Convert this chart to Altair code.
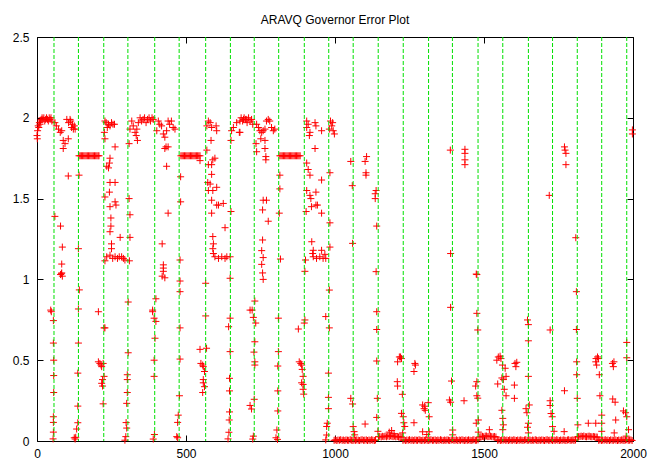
import altair as alt
import pandas as pd

# Time steps at which the governor switched module (vertical dashed lines)
switch_steps = [57, 139, 224, 305, 395, 477, 566, 649, 729, 811, 897, 979,
                1061, 1145, 1229, 1314, 1394, 1480, 1563, 1649, 1730, 1813, 1895, 1979]

# (step, error) samples, grouped by stretch of the run
seg_a = [(0, 1.89), (1, 1.87), (2, 1.92), (4, 1.95), (6, 1.94), (8, 1.97), (10, 1.96), (12, 1.98),
         (14, 1.99), (17, 2.0), (20, 1.99), (23, 2.0), (26, 1.98), (29, 1.99), (32, 2.0), (35, 1.99),
         (38, 1.98), (41, 2.0), (44, 1.99), (47, 2.0), (50, 1.98),
         (46, 0.81), (48, 0.80), (55, 0.745), (55, 0.606), (56, 0.50), (56, 0.405), (56, 0.30),
         (55, 0.15), (55, 0.115), (55, 0.055), (54, 0.013), (60, 1.39)]

seg_b = [(60, 1.97), (65, 1.95), (72, 1.93), (78, 1.91), (83, 1.92), (88, 1.86), (94, 1.84), (88, 1.81),
         (105, 1.87), (100, 1.99), (111, 1.99), (106, 1.97), (116, 1.94), (122, 1.93), (128, 1.93),
         (125, 1.95), (119, 1.96), (113, 1.98), (105, 1.64), (79, 1.33),
         (85, 1.20), (83, 1.095), (83, 1.04), (79, 1.03), (85, 1.02), (82, 1.035),
         (139, 1.19), (142, 0.935), (139, 0.817), (139, 0.606), (137, 0.42), (137, 0.216), (137, 0.113),
         (133, 0.074), (130, 0.023), (125, 0.02), (128, 0.012), (141, 1.645)]

seg_c = [(228, 1.98), (232, 1.97), (236, 1.94), (240, 1.96), (245, 1.95), (250, 1.97), (255, 1.96),
         (260, 1.96), (226, 1.91), (228, 1.87), (262, 1.82), (245, 1.75), (243, 1.72), (234, 1.70),
         (240, 1.69), (245, 1.60), (262, 1.60), (228, 1.51), (243, 1.54), (245, 1.45), (262, 1.48),
         (265, 1.46), (248, 1.38), (248, 1.33),
         (234, 1.14), (245, 1.15), (254, 1.13), (262, 1.14), (270, 1.13), (276, 1.14), (284, 1.14),
         (290, 1.13), (295, 1.12), (279, 1.26), (245, 1.295), (250, 1.22), (250, 1.19), (228, 1.115),
         (310, 1.115), (312, 1.26),
         (206, 0.80), (228, 0.70), (225, 0.70), (206, 0.49), (211, 0.48), (215, 0.47), (217, 0.46),
         (222, 0.48), (225, 0.40), (220, 0.38), (217, 0.357), (220, 0.34), (222, 0.23),
         (306, 0.86), (306, 0.546), (303, 0.41), (303, 0.38), (303, 0.30), (301, 0.233), (299, 0.114),
         (301, 0.08), (298, 0.027), (295, 0.005)]

seg_d = [(312, 1.93), (318, 1.98), (323, 1.95), (329, 1.91), (333, 1.89), (337, 1.86), (335, 1.93),
         (309, 1.84), (346, 2.0), (351, 1.98), (356, 1.99), (361, 2.0), (366, 1.97), (371, 1.99),
         (376, 2.0), (381, 1.98), (386, 2.0), (390, 1.99), (340, 1.97), (309, 1.50), (312, 1.40),
         (402, 1.92), (407, 1.98), (418, 1.95), (424, 1.90), (429, 1.88), (435, 1.92), (440, 1.98),
         (451, 1.98), (457, 1.94), (463, 1.93), (412, 1.96), (445, 1.96), (433, 1.82), (429, 1.81),
         (440, 1.82), (435, 1.70), (440, 1.41),
         (420, 1.22), (424, 1.09), (424, 1.07), (424, 1.05), (420, 1.02), (429, 1.01),
         (399, 0.88), (388, 0.81), (388, 0.80), (393, 0.76), (399, 0.74), (396, 0.636), (393, 0.50),
         (393, 0.40), (394, 0.04), (390, 0.012),
         (480, 1.12), (480, 0.99), (480, 0.924), (480, 0.70), (480, 0.507), (478, 0.28), (474, 0.16),
         (472, 0.115), (469, 0.027), (472, 0.02), (482, 1.635), (482, 1.48), (547, 1.735)]

seg_e = [(575, 1.98), (581, 1.97), (570, 1.95), (586, 1.94), (601, 1.95), (603, 1.92), (584, 1.86),
         (570, 1.80), (575, 1.71), (586, 1.71), (590, 1.74), (597, 1.75), (586, 1.65), (573, 1.60),
         (581, 1.59), (590, 1.55), (575, 1.55), (603, 1.57), (586, 1.49), (603, 1.46), (609, 1.46),
         (625, 1.47), (586, 1.41), (631, 1.32),
         (590, 1.265), (592, 1.22), (590, 1.19), (592, 1.16), (597, 1.14), (609, 1.13), (620, 1.14),
         (631, 1.13), (637, 1.14), (648, 1.14),
         (566, 0.976), (566, 0.774), (569, 0.574), (547, 0.567),
         (550, 0.48), (556, 0.47), (558, 0.46), (562, 0.43), (558, 0.38), (558, 0.36), (562, 0.336),
         (556, 0.30),
         (648, 1.007), (648, 0.76), (648, 0.553), (646, 0.388), (646, 0.31), (646, 0.18), (645, 0.13),
         (644, 0.054), (641, 0.013), (643, 0.707)]

seg_f = [(653, 1.92), (659, 1.94), (670, 1.97), (681, 1.98), (693, 1.99), (704, 1.99), (679, 1.91),
         (651, 1.86), (651, 1.42), (685, 2.0), (690, 1.98), (695, 2.0), (700, 1.99), (705, 1.97),
         (710, 2.0), (715, 1.98), (720, 1.99), (724, 1.96), (681, 1.91),
         (715, 0.81), (715, 0.22),
         (731, 0.866), (722, 0.81), (726, 0.765), (734, 0.73), (731, 0.614), (728, 0.55), (731, 0.49),
         (731, 0.47), (729, 0.258), (720, 0.198), (726, 0.03), (724, 0.012)]

seg_g = [(737, 1.96), (743, 1.94), (748, 1.92), (754, 1.91), (759, 1.92), (765, 1.93), (770, 1.98),
         (776, 1.99), (781, 1.98), (787, 1.94), (793, 1.92), (798, 1.93), (751, 1.87), (765, 1.86),
         (735, 1.84), (737, 1.79), (765, 1.81), (768, 1.76), (768, 1.74),
         (759, 1.49), (770, 1.49), (757, 1.43), (776, 1.36),
         (757, 1.244), (754, 1.178), (759, 1.135), (754, 1.093), (757, 1.04), (759, 1.0),
         (815, 1.645), (815, 1.56), (813, 1.41), (817, 1.126), (810, 0.76), (810, 0.553), (808, 0.464),
         (808, 0.31), (808, 0.186), (805, 0.068), (802, 0.02), (807, 0.01)]

seg_h = [(905, 1.98), (910, 1.96), (905, 1.94), (916, 1.91), (914, 1.89), (933, 1.97), (936, 1.95),
         (955, 1.92), (985, 1.98), (992, 1.97), (989, 1.95), (994, 1.92), (998, 1.90), (981, 1.93),
         (933, 1.81), (905, 1.72), (910, 1.68), (916, 1.645), (955, 1.615), (983, 1.66), (905, 1.55),
         (916, 1.52), (919, 1.50), (936, 1.54), (903, 1.42), (936, 1.46), (941, 1.46), (921, 1.45),
         (955, 1.41), (983, 1.35),
         (880, 0.49), (885, 0.48), (888, 0.47), (890, 0.443), (893, 0.40), (888, 0.36), (893, 0.35),
         (893, 0.32), (895, 0.29), (877, 0.693), (899, 0.749), (897, 0.73), (901, 1.12), (899, 1.05),
         (922, 1.233), (927, 1.18), (925, 1.16), (927, 1.14), (938, 1.13), (949, 1.14), (955, 1.18),
         (960, 1.13), (969, 1.13), (966, 1.155),
         (983, 1.20), (981, 0.934), (969, 0.77), (981, 0.70), (978, 0.42), (978, 0.27), (978, 0.20),
         (974, 0.11), (972, 0.09), (972, 0.037), (969, 0.007)]

seg_late = [(1059, 1.223), (1053, 0.264), (1059, 0.229), (1061, 0.089), (1064, 0.058), (1066, 0.038),
            (1053, 1.73), (1058, 1.58), (1106, 1.76), (1101, 1.73), (1104, 1.66), (1104, 1.645),
            (1138, 1.55), (1135, 1.53), (1135, 1.50), (1140, 1.33), (1101, 0.105),
            (1138, 1.048), (1140, 0.80), (1140, 0.69), (1140, 0.495), (1142, 0.264), (1140, 0.146),
            (1144, 0.06),
            (1216, 0.52), (1220, 0.52), (1223, 0.51), (1210, 0.49), (1209, 0.367), (1210, 0.34),
            (1226, 0.289), (1223, 0.171), (1229, 0.15), (1231, 0.113), (1234, 0.09), (1227, 0.05),
            (1268, 0.48), (1270, 0.47), (1265, 0.43),
            (1294, 0.223), (1299, 0.20), (1303, 0.19), (1301, 0.215), (1313, 0.237), (1316, 0.15),
            (1265, 0.113), (1294, 0.057), (1308, 0.04), (1316, 0.057),
            (1388, 1.16), (1388, 0.827), (1391, 0.371), (1384, 0.254), (1388, 0.24), (1395, 0.068),
            (1395, 0.038), (1387, 1.80),
            (1436, 1.805), (1436, 1.78), (1436, 1.74), (1436, 1.71), (1433, 0.249),
            (1474, 1.033), (1476, 1.03), (1476, 0.79), (1479, 0.687), (1476, 0.367), (1472, 0.34),
            (1476, 0.28), (1479, 0.265), (1474, 0.11), (1481, 0.13), (1481, 0.055),
            (1543, 0.50), (1548, 0.52), (1554, 0.525), (1557, 0.51), (1562, 0.47), (1565, 0.38),
            (1571, 0.45), (1574, 0.40), (1560, 0.39), (1546, 0.353), (1568, 0.32), (1574, 0.28),
            (1560, 0.19), (1563, 0.14), (1565, 0.10), (1563, 0.07),
            (1604, 0.48), (1610, 0.487), (1607, 0.46), (1602, 0.346), (1602, 0.264),
            (1646, 0.749), (1649, 0.72), (1649, 0.62), (1649, 0.40), (1652, 0.223), (1641, 0.20),
            (1644, 0.175), (1649, 0.11), (1646, 0.085), (1649, 0.05),
            (1719, 1.52), (1722, 0.687), (1722, 0.249), (1722, 0.22), (1725, 0.17), (1729, 0.15),
            (1730, 0.089), (1735, 0.06),
            (1770, 1.82), (1772, 1.80), (1775, 1.78), (1775, 1.71), (1770, 0.311), (1769, 0.058),
            (1808, 1.258), (1810, 0.924), (1810, 0.69), (1811, 0.49), (1811, 0.41), (1813, 0.264),
            (1815, 0.10),
            (1876, 0.51), (1881, 0.52), (1884, 0.51), (1875, 0.49), (1878, 0.47), (1887, 0.41),
            (1889, 0.28), (1895, 0.16), (1895, 0.11), (1895, 0.06), (1850, 0.11), (1875, 0.11),
            (1931, 0.48), (1936, 0.49), (1934, 0.46), (1932, 0.26), (1940, 0.24), (1942, 0.13),
            (1937, 0.05),
            (1979, 0.61), (1979, 0.515), (1968, 0.186), (1975, 0.175), (1979, 0.15), (1985, 0.07),
            (1977, 0.03), (1998, 1.925), (1998, 1.90)]

# Flat stretches where the error sits at a constant level
plateau_steps = [141, 145, 149, 153, 157, 161, 165, 169, 173, 177, 181, 185, 189, 193, 197, 201, 205, 208,
                 483, 487, 491, 495, 499, 503, 507, 511, 515, 519, 523, 527, 531, 535, 539, 543, 547,
                 815, 819, 823, 827, 831, 835, 839, 843, 847, 851, 855, 859, 863, 867, 871, 875, 879, 883]
plateau_err = [1.765] * len(plateau_steps)

# Near-zero floor in the second half of the run, and its slightly raised stretches
floor_1 = [(997, .004), (1001, .007), (1006, .003), (1010, .006), (1015, .005), (1019, .008), (1024, .004),
           (1028, .006), (1033, .003), (1037, .007), (1042, .005), (1046, .004), (1051, .008), (1055, .005),
           (1060, .003), (1064, .006), (1069, .004), (1073, .007), (1078, .005), (1082, .003), (1087, .006),
           (1091, .008), (1096, .004), (1100, .005), (1105, .007), (1109, .003), (1114, .006), (1118, .004),
           (1123, .008), (1127, .005), (1132, .003), (1136, .006)]
raised_1 = [(1146, .026), (1150, .028), (1155, .025), (1159, .029), (1164, .027), (1168, .030), (1173, .026),
            (1177, .031), (1182, .028), (1186, .032), (1191, .029), (1195, .027), (1200, .030), (1204, .026),
            (1209, .028), (1213, .025), (1218, .027), (1222, .024), (1182, .055), (1190, .065), (1198, .045)]
floor_2 = [(1228, .004), (1232, .007), (1237, .003), (1241, .006), (1246, .005), (1250, .008), (1255, .004),
           (1259, .006), (1264, .003), (1268, .007), (1273, .005), (1277, .004), (1282, .008), (1286, .005),
           (1291, .003), (1295, .006), (1300, .004), (1304, .007), (1309, .005), (1313, .003), (1318, .006),
           (1322, .008), (1327, .004), (1331, .005), (1336, .007), (1340, .003), (1345, .006), (1349, .004),
           (1354, .008), (1358, .005), (1363, .003), (1367, .006), (1372, .004), (1376, .007), (1381, .005),
           (1385, .003), (1390, .006), (1394, .008), (1399, .004), (1403, .005), (1408, .007), (1412, .003),
           (1417, .006), (1421, .004), (1426, .008), (1430, .005), (1435, .003), (1439, .006), (1444, .004),
           (1448, .007), (1453, .005), (1457, .003), (1462, .006), (1466, .008), (1471, .004), (1475, .005),
           (1480, .007)]
raised_2 = [(1486, .025), (1490, .027), (1495, .029), (1499, .026), (1504, .030), (1508, .031), (1513, .027),
            (1517, .028), (1522, .030), (1526, .027), (1531, .026), (1535, .028), (1540, .025), (1518, .070)]
floor_3 = [(1546, .004), (1550, .007), (1555, .003), (1559, .006), (1564, .005), (1568, .008), (1573, .004),
           (1577, .006), (1582, .003), (1586, .007), (1591, .005), (1595, .004), (1600, .008), (1604, .005),
           (1609, .003), (1613, .006), (1618, .004), (1622, .007), (1627, .005), (1631, .003), (1636, .006),
           (1640, .008), (1645, .004), (1649, .005), (1654, .007), (1658, .003), (1663, .006), (1667, .004),
           (1672, .008), (1676, .005), (1681, .003), (1685, .006), (1690, .004), (1694, .007), (1699, .005),
           (1703, .003), (1708, .006), (1712, .008), (1717, .004), (1721, .005), (1726, .007), (1730, .003),
           (1735, .006), (1739, .004), (1744, .008), (1748, .005), (1753, .003), (1757, .006), (1762, .004),
           (1766, .007), (1771, .005), (1775, .003), (1780, .006), (1784, .008), (1789, .004), (1793, .005),
           (1798, .007), (1802, .003), (1807, .006)]
raised_3 = [(1813, .025), (1817, .027), (1822, .028), (1826, .030), (1831, .028), (1835, .031), (1840, .027),
            (1844, .026), (1849, .029), (1853, .030), (1858, .027), (1862, .026), (1867, .028), (1871, .026),
            (1876, .025), (1880, .024)]
floor_4 = [(1885, .004), (1889, .007), (1894, .003), (1898, .006), (1903, .005), (1907, .008), (1912, .004),
           (1916, .006), (1921, .003), (1925, .007), (1930, .005), (1934, .004), (1939, .008), (1943, .005),
           (1948, .003), (1952, .006), (1957, .004), (1961, .007), (1966, .005), (1970, .003), (1975, .006),
           (1979, .008), (1984, .004), (1988, .005), (1993, .007), (1997, .003)]

x_ticks = [0, 500, 1000, 1500, 2000]
y_ticks = [0, 0.5, 1, 1.5, 2, 2.5]

scattered = (seg_a + seg_b + seg_c + seg_d + seg_e + seg_f + seg_g + seg_h + seg_late
             + floor_1 + raised_1 + floor_2 + raised_2 + floor_3 + raised_3 + floor_4)
points = pd.concat([
    pd.DataFrame(scattered, columns=["step", "error"]),
    pd.DataFrame({"step": plateau_steps, "error": plateau_err}),
], ignore_index=True)
switches = pd.DataFrame({"step": switch_steps})
frame = pd.DataFrame({"step": [0, 2000], "error": [0, 2.5]})

FONT = "Liberation Sans"
x_scale = alt.Scale(domain=[0, 2000], nice=False, zero=False)
y_scale = alt.Scale(domain=[0, 2.5], nice=False)
PLUS = "M-1,0L1,0M0,-1L0,1"


def label_axis(values, orient, fmt, pad):
    return alt.Axis(values=values, orient=orient, format=fmt, tickSize=0, domain=False, grid=False,
                    labelPadding=pad, labelFont=FONT, labelFontSize=12, labelColor="black",
                    labelFlush=False, labelOverlap=False, title=None)


def tick_axis(values, orient):
    # ticks pointing into the plot, drawn from an axis pulled inside the frame
    return alt.Axis(values=values, orient=orient, offset=-6, tickSize=6, tickColor="black",
                    tickWidth=1, labels=False, domain=False, grid=False, title=None)


marks = alt.Chart(points).mark_point(
    shape=PLUS, size=49, filled=False, color="#ff0000", strokeWidth=1, opacity=1
).encode(
    x=alt.X("step:Q", scale=x_scale, axis=label_axis(x_ticks, "bottom", "d", 7)),
    y=alt.Y("error:Q", scale=y_scale, axis=label_axis(y_ticks, "left", "~g", 8)),
)

ticks_bl = alt.Chart(frame).mark_point(opacity=0).encode(
    x=alt.X("step:Q", scale=x_scale, axis=tick_axis(x_ticks, "bottom")),
    y=alt.Y("error:Q", scale=y_scale, axis=tick_axis(y_ticks, "left")),
)
ticks_tr = alt.Chart(frame).mark_point(opacity=0).encode(
    x=alt.X("step:Q", scale=x_scale, axis=tick_axis(x_ticks, "top")),
    y=alt.Y("error:Q", scale=y_scale, axis=tick_axis(y_ticks, "right")),
)

rules = alt.Chart(switches).mark_rule(
    color="#00e000", strokeDash=[4, 2], strokeWidth=1
).encode(x=alt.X("step:Q", scale=x_scale, axis=None))

chart = alt.layer(marks, ticks_bl, ticks_tr, rules).resolve_axis(
    x="independent", y="independent"
).properties(
    width=596,
    height=404,
    title=alt.TitleParams("ARAVQ Governor Error Plot", font=FONT, fontSize=12, fontWeight="normal",
                          color="black", anchor="middle", frame="group", offset=14, dy=19,
                          baseline="alphabetic"),
    autosize=alt.AutoSizeParams(type="none"),
    padding={"left": 37, "top": 37, "right": 15, "bottom": 20},
).configure_view(stroke="black", strokeWidth=1)

chart.save("out.html", embed_options={"renderer": "svg", "actions": False})
